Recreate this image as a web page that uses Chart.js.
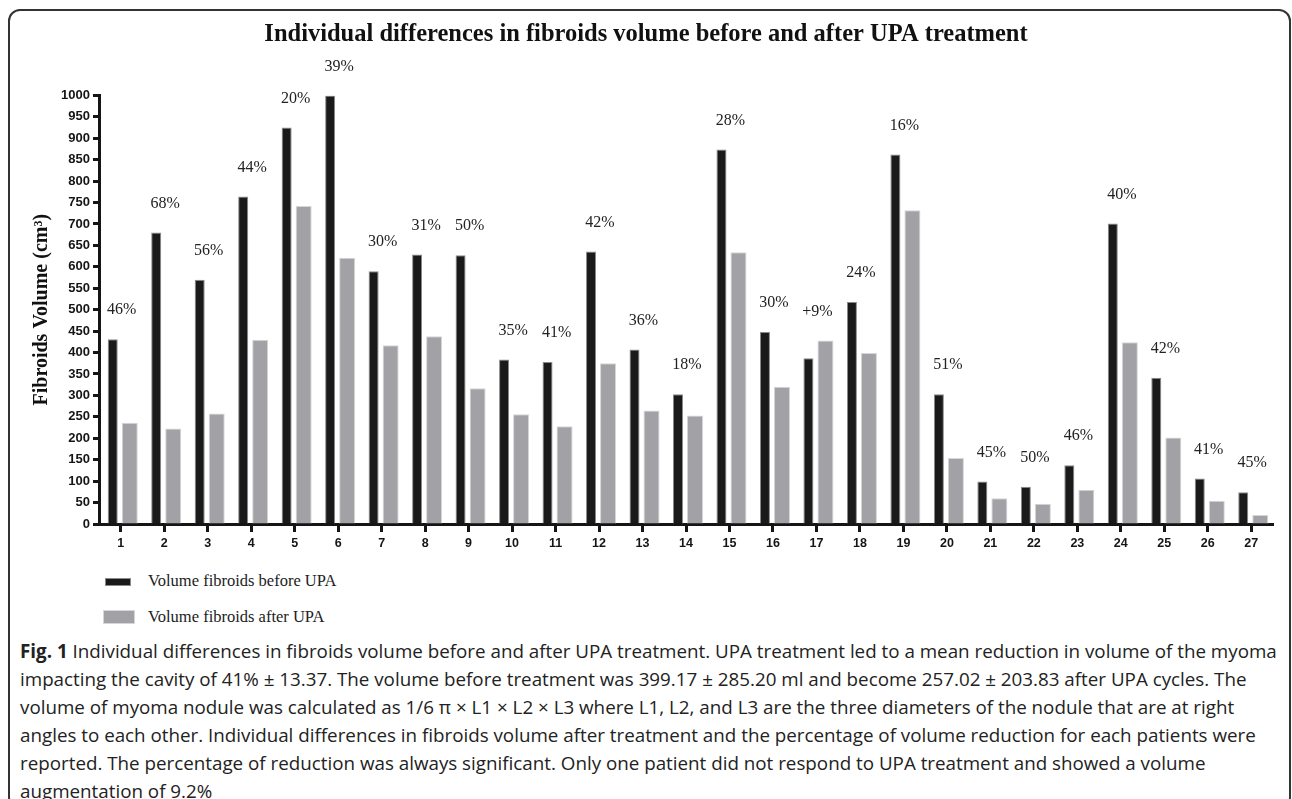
<!DOCTYPE html>
<html>
<head>
<meta charset="utf-8">
<script src="https://cdn.jsdelivr.net/npm/chart.js@4.4.1/dist/chart.umd.min.js"></script>
<style>
  html, body { margin: 0; padding: 0; background: #fff; overflow: hidden; }
  body { width: 1292px; height: 799px; position: relative; }
  #frame {
    position: absolute; left: 8px; top: 9px; width: 1283px; height: 800px;
    box-sizing: border-box; border: 2px solid #333; border-radius: 12px;
  }
  #chart { position: absolute; left: 0; top: 0; }
  #legend { position: absolute; left: 0; top: 566px; font-family: 'Liberation Serif', 'Times New Roman', serif; font-size: 16.5px; color: #222; }
  .item { position: absolute; white-space: nowrap; }
  .sw { position: absolute; }
  #caption {
    position: absolute; left: 20px; top: 637px;
    font-family: 'Open Sans', sans-serif; font-size: 18.8px; line-height: 28px;
    color: #222; white-space: nowrap;
  }
</style>
</head>
<body>
<div id="frame"></div>
<canvas id="chart" width="1292" height="562"></canvas>
<div id="legend"></div>
<div id="caption">
<b>Fig. 1</b> Individual differences in fibroids volume before and after UPA treatment. UPA treatment led to a mean reduction in volume of the myoma<br>
impacting the cavity of 41% ± 13.37. The volume before treatment was 399.17 ± 285.20 ml and become 257.02 ± 203.83 after UPA cycles. The<br>
volume of myoma nodule was calculated as 1/6 π × L1 × L2 × L3 where L1, L2, and L3 are the three diameters of the nodule that are at right<br>
angles to each other. Individual differences in fibroids volume after treatment and the percentage of volume reduction for each patients were<br>
reported. The percentage of reduction was always significant. Only one patient did not respond to UPA treatment and showed a volume<br>
augmentation of 9.2%
</div>
<script>
// data
var patients = ["1","2","3","4","5","6","7","8","9","10","11","12","13","14","15","16","17","18","19","20","21","22","23","24","25","26","27"];
var volBefore = [431, 680, 570, 764, 925, 1000, 590, 629, 627, 384, 378, 636, 407, 303, 874, 448, 387, 518, 862, 303, 99, 87, 137, 701, 341, 106, 74];
var volAfter = [236, 223, 258, 430, 742, 621, 417, 438, 317, 256, 228, 375, 265, 253, 634, 320, 428, 399, 732, 154, 60, 47, 80, 424, 202, 54, 21];
var reduction = ["46%","68%","56%","44%","20%","39%","30%","31%","50%","35%","41%","42%","36%","18%","28%","30%","+9%","24%","16%","51%","45%","50%","46%","40%","42%","41%","45%"];
var seriesNames = ["Volume fibroids before UPA", "Volume fibroids after UPA"];
var yTicks = { min: 0, max: 1000, step: 50 };

var ink = '#151515';
var serif = "'Liberation Serif', 'Times New Roman', serif";
var sans = "'Liberation Sans', Arial, sans-serif";

// percentage labels above each pair
var pctLabels = {
    id: 'pctLabels',
    afterDatasetsDraw: function(chart) {
        var ctx = chart.ctx;
        var m0 = chart.getDatasetMeta(0), m1 = chart.getDatasetMeta(1);
        var xs = chart.scales.x;
        ctx.save();
        ctx.font = "16px " + serif;
        ctx.fillStyle = '#222';
        ctx.textAlign = 'center';
        ctx.textBaseline = 'middle';
        for (var i = 0; i < reduction.length; i++) {
            var top = Math.min(m0.data[i].y, m1.data[i].y);
            ctx.fillText(reduction[i], xs.getPixelForValue(i) + 1, top - 29);
        }
        ctx.restore();
    }
};

var chart = new Chart(document.getElementById('chart'), {
    type: 'bar',
    data: {
        labels: patients,
        datasets: [{
            label: seriesNames[0],
            data: volBefore,
            backgroundColor: '#1a1a1a',
            borderColor: '#8a8a8a',
            borderWidth: 1,
            categoryPercentage: 0.737,
            barPercentage: 0.625
        }, {
            label: seriesNames[1],
            data: volAfter,
            backgroundColor: '#a2a2a6',
            borderColor: '#d6d6d8',
            borderWidth: 1,
            categoryPercentage: 0.829,
            barPercentage: 0.889
        }]
    },
    options: {
        responsive: false,
        animation: false,
        layout: { padding: { top: 0, right: 19, left: 19, bottom: 0 } },
        plugins: {
            legend: { display: false },
            tooltip: { enabled: false },
            title: {
                display: true,
                text: 'Individual differences in fibroids volume before and after UPA treatment',
                color: '#111',
                font: { family: serif, size: 24.5, weight: 'bold' },
                padding: { top: 20, bottom: 46 }
            }
        },
        scales: {
            x: {
                grid: { drawOnChartArea: false, offset: false, tickLength: 8, tickWidth: 3, tickColor: ink },
                border: { width: 3, color: ink },
                ticks: { color: ink, font: { family: sans, size: 12.5, weight: 'bold' }, padding: 4, maxRotation: 0 },
                afterFit: function(s) { s.height = 38; }
            },
            y: {
                min: yTicks.min,
                max: yTicks.max,
                grid: { drawOnChartArea: false, tickLength: 6, tickWidth: 3, tickColor: ink },
                border: { width: 3, color: ink },
                ticks: {
                    stepSize: yTicks.step, color: ink, padding: 3,
                    font: { family: sans, size: 13, weight: 'bold' },
                    callback: function(v) { return String(v); }
                },
                title: {
                    display: true,
                    text: 'Fibroids Volume (cm³)',
                    color: '#111',
                    font: { family: serif, size: 20, weight: 'bold' },
                    padding: { top: 11, bottom: 0 }
                },
                afterFit: function(s) { s.width = 80; }
            }
        }
    },
    plugins: [pctLabels]
});

// legend stacked vertically under the chart
var legend = document.getElementById('legend');
var swatches = [
    { left: 105, top: 12, w: 26, h: 8 },
    { left: 103, top: 44, w: 32, h: 14 }
];
chart.data.datasets.forEach(function(ds, i) {
    var sw = document.createElement('div');
    sw.className = 'sw';
    sw.style.left = swatches[i].left + 'px';
    sw.style.top = swatches[i].top + 'px';
    sw.style.width = swatches[i].w + 'px';
    sw.style.height = swatches[i].h + 'px';
    sw.style.background = ds.backgroundColor;
    sw.style.boxShadow = 'inset 0 0 0 1px ' + ds.borderColor;
    legend.appendChild(sw);
    var t = document.createElement('div');
    t.className = 'item';
    t.style.left = '148px';
    t.style.top = (i === 0 ? 5 : 41) + 'px';
    t.textContent = ds.label;
    legend.appendChild(t);
});
</script>
</body>
</html>
